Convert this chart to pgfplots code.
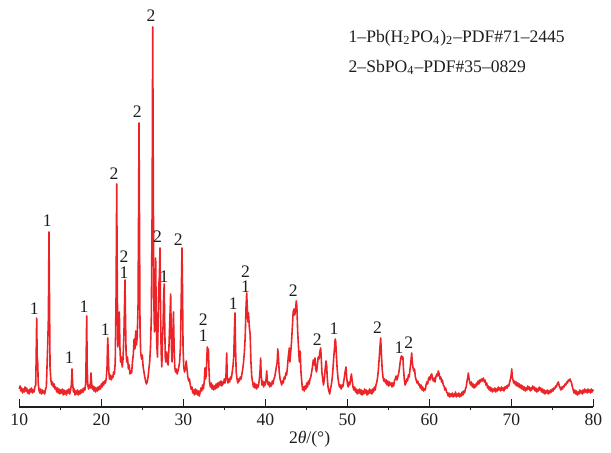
\documentclass[border=0pt]{standalone}
\usepackage{fontspec}
\setmainfont{Liberation Serif}
\usepackage{pgfplots}
\pgfplotsset{compat=1.18}
\definecolor{trace}{RGB}{236,36,40}
\definecolor{ink}{RGB}{30,30,30}

\begin{document}
\begin{tikzpicture}[lbl/.style={font=\fontsize{8.8}{10}\selectfont, text=ink, inner sep=0pt}]
\begin{axis}[
  x=4.1pt, y=0.5pt,
  xmin=10, xmax=80, ymin=0, ymax=407,
  axis x line=bottom, axis y line=none,
  axis line style={-, ink, line width=0.6pt},
  xtick={10,20,...,80}, minor x tick num=1,
  xtick align=inside, major tick length=4pt, minor tick length=1.5pt,
  minor x tick style={yshift=-1.5pt},
  tick style={ink, line width=0.6pt},
  ytick=\empty,
  tick label style={font=\fontsize{8.8}{10}\selectfont, text=ink},
  /pgf/number format/assume math mode=true,
  clip=false,
]
\addplot[trace, line width=0.8pt, line join=round] coordinates {
(10.0,18) (10.1,21) (10.2,16) (10.3,19) (10.4,14) (10.5,18) (10.6,15) (10.7,20) (10.8,16) (10.9,19)
(11.0,14) (11.1,17) (11.2,13) (11.3,18) (11.4,15) (11.5,19) (11.6,14) (11.7,17) (11.8,15) (11.9,20)
(12.0,22) (12.05,45) (12.12,89) (12.18,50) (12.25,44) (12.3,25) (12.4,17) (12.5,14) (12.6,18) (12.7,13)
(12.8,17) (12.9,14) (13.0,16) (13.1,13) (13.2,18) (13.3,20) (13.45,58) (13.55,90) (13.62,175) (13.68,110)
(13.75,40) (13.85,27) (13.95,22) (14.05,25) (14.15,20) (14.25,23) (14.35,18) (14.45,20) (14.55,15) (14.65,19)
(14.75,14) (14.85,18) (14.95,13) (15.05,17) (15.15,14) (15.25,18) (15.35,12) (15.45,17) (15.55,13) (15.65,16)
(15.75,12) (15.85,17) (15.95,14) (16.05,18) (16.15,13) (16.25,17) (16.35,22) (16.43,38) (16.5,24) (16.6,15)
(16.7,18) (16.8,12) (16.9,16) (17.0,13) (17.1,17) (17.2,12) (17.3,16) (17.4,13) (17.5,17) (17.6,14)
(17.7,18) (17.8,15) (17.9,19) (18.0,17) (18.1,24) (18.17,60) (18.22,91) (18.28,40) (18.35,22) (18.45,18)
(18.55,22) (18.65,19) (18.74,34) (18.82,24) (18.9,18) (19.0,21) (19.1,16) (19.2,20) (19.3,15) (19.4,19)
(19.5,16) (19.6,20) (19.7,17) (19.8,21) (19.9,18) (20.0,23) (20.1,20) (20.2,25) (20.3,22) (20.4,26)
(20.5,24) (20.6,28) (20.7,40) (20.78,69) (20.85,55) (20.92,35) (21.0,28) (21.1,32) (21.2,27) (21.3,31)
(21.4,29) (21.5,35) (21.6,33) (21.7,45) (21.8,110) (21.88,223) (21.95,120) (22.02,60) (22.1,72) (22.2,95)
(22.27,60) (22.35,45) (22.45,50) (22.55,40) (22.65,48) (22.75,70) (22.83,100) (22.89,127) (22.95,90) (23.02,55)
(23.1,45) (23.2,50) (23.3,38) (23.4,42) (23.5,33) (23.6,36) (23.7,34) (23.8,45) (23.9,52) (24.0,68)
(24.1,58) (24.2,76) (24.28,62) (24.38,70) (24.48,100) (24.55,200) (24.6,284) (24.66,180) (24.72,80) (24.8,55)
(24.9,48) (25.0,52) (25.1,40) (25.2,35) (25.3,30) (25.4,26) (25.5,23) (25.6,25) (25.7,30) (25.8,38)
(25.9,45) (26.0,60) (26.1,90) (26.2,200) (26.27,380) (26.33,250) (26.4,110) (26.48,75) (26.56,100) (26.63,149)
(26.7,90) (26.78,60) (26.85,50) (26.92,80) (27.0,120) (27.08,130) (27.16,159) (27.22,100) (27.3,55) (27.38,40)
(27.45,65) (27.53,80) (27.6,110) (27.67,123) (27.73,85) (27.8,50) (27.88,45) (27.96,55) (28.05,45) (28.15,42)
(28.25,60) (28.35,85) (28.46,113) (28.55,60) (28.63,45) (28.72,70) (28.8,95) (28.88,60) (28.96,40) (29.05,35)
(29.15,38) (29.25,33) (29.35,36) (29.45,40) (29.55,45) (29.65,60) (29.75,110) (29.84,159) (29.9,120) (29.97,60)
(30.05,40) (30.15,35) (30.25,38) (30.35,46) (30.45,38) (30.55,30) (30.65,26) (30.75,28) (30.85,22) (30.95,18)
(31.05,20) (31.15,14) (31.25,17) (31.35,12) (31.45,18) (31.55,13) (31.65,17) (31.75,12) (31.85,16) (31.95,11)
(32.05,15) (32.15,19) (32.25,16) (32.35,22) (32.45,18) (32.55,25) (32.65,39) (32.72,28) (32.8,32) (32.87,50)
(32.93,60) (33.0,55) (33.06,58) (33.12,40) (33.2,25) (33.3,20) (33.4,24) (33.5,18) (33.6,22) (33.7,17)
(33.8,21) (33.9,18) (34.0,23) (34.1,19) (34.2,24) (34.3,20) (34.4,25) (34.5,22) (34.6,26) (34.7,21)
(34.8,25) (34.9,23) (35.0,28) (35.1,24) (35.2,30) (35.29,54) (35.36,30) (35.45,24) (35.55,28) (35.65,25)
(35.75,30) (35.85,28) (35.95,34) (36.05,40) (36.15,50) (36.23,75) (36.3,94) (36.37,60) (36.45,35) (36.55,28)
(36.65,24) (36.75,28) (36.85,26) (36.95,30) (37.05,28) (37.15,33) (37.25,38) (37.35,45) (37.45,55) (37.55,70)
(37.65,100) (37.73,114) (37.8,100) (37.88,85) (37.95,94) (38.05,80) (38.15,73) (38.25,45) (38.35,30) (38.45,25)
(38.55,20) (38.65,24) (38.75,19) (38.85,23) (38.95,18) (39.05,22) (39.15,20) (39.25,26) (39.35,35) (39.43,49)
(39.5,32) (39.6,22) (39.7,26) (39.8,20) (39.9,25) (40.0,22) (40.1,28) (40.17,36) (40.25,26) (40.35,22)
(40.45,25) (40.55,20) (40.65,24) (40.75,21) (40.85,26) (40.95,23) (41.05,28) (41.15,30) (41.25,35) (41.35,40)
(41.45,45) (41.52,58) (41.6,50) (41.7,35) (41.8,28) (41.9,25) (42.0,22) (42.1,26) (42.2,24) (42.3,30)
(42.4,28) (42.5,34) (42.6,32) (42.7,40) (42.8,50) (42.93,59) (43.0,45) (43.1,55) (43.2,65) (43.3,80)
(43.4,95) (43.5,98) (43.6,92) (43.7,99) (43.78,106) (43.85,100) (43.95,75) (44.05,60) (44.15,45) (44.25,56)
(44.35,35) (44.45,25) (44.55,17) (44.65,20) (44.75,16) (44.85,21) (44.95,18) (45.05,24) (45.15,20) (45.25,26)
(45.35,23) (45.45,28) (45.55,30) (45.65,35) (45.75,40) (45.85,47) (45.95,42) (46.06,49) (46.15,38) (46.25,35)
(46.35,42) (46.45,50) (46.55,48) (46.65,55) (46.75,59) (46.82,50) (46.9,35) (47.0,28) (47.1,22) (47.2,28)
(47.3,38) (47.4,46) (47.48,42) (47.55,30) (47.65,20) (47.75,16) (47.85,13) (47.95,18) (48.05,22) (48.15,28)
(48.25,38) (48.35,50) (48.45,60) (48.52,68) (48.58,66) (48.65,55) (48.75,40) (48.85,30) (48.95,24) (49.05,20)
(49.15,22) (49.25,18) (49.35,22) (49.45,20) (49.55,25) (49.65,30) (49.75,36) (49.84,40) (49.92,30) (50.0,24)
(50.1,20) (50.2,25) (50.3,22) (50.4,28) (50.5,33) (50.6,26) (50.7,20) (50.8,17) (50.9,20) (51.0,15)
(51.1,18) (51.2,13) (51.3,17) (51.4,14) (51.5,18) (51.6,13) (51.7,17) (51.8,12) (51.9,16) (52.0,13)
(52.1,18) (52.2,14) (52.3,17) (52.4,12) (52.5,16) (52.6,13) (52.7,18) (52.8,14) (52.9,17) (53.0,13)
(53.1,18) (53.2,15) (53.3,20) (53.4,17) (53.5,22) (53.6,25) (53.7,30) (53.8,38) (53.9,50) (54.0,62)
(54.07,69) (54.15,55) (54.25,38) (54.35,30) (54.45,26) (54.55,28) (54.65,24) (54.75,27) (54.85,22) (54.95,26)
(55.05,21) (55.15,25) (55.25,22) (55.35,24) (55.45,20) (55.55,24) (55.65,21) (55.75,26) (55.85,28) (55.95,31)
(56.05,27) (56.15,30) (56.25,33) (56.35,38) (56.45,45) (56.55,50) (56.63,51) (56.7,48) (56.78,50) (56.85,38)
(56.95,28) (57.05,22) (57.15,24) (57.25,28) (57.35,26) (57.45,32) (57.55,30) (57.65,38) (57.75,45) (57.85,54)
(57.92,45) (58.0,40) (58.1,36) (58.2,38) (58.3,30) (58.4,27) (58.5,24) (58.6,26) (58.7,22) (58.8,23)
(58.9,19) (59.0,22) (59.1,17) (59.2,20) (59.3,16) (59.4,18) (59.5,17) (59.6,22) (59.7,25) (59.8,23)
(59.9,28) (60.0,30) (60.1,27) (60.2,32) (60.3,33) (60.4,28) (60.5,26) (60.6,29) (60.7,25) (60.8,30)
(60.9,33) (61.0,31) (61.1,36) (61.2,33) (61.3,28) (61.4,30) (61.5,25) (61.6,27) (61.7,22) (61.8,21)
(61.9,17) (62.0,19) (62.1,15) (62.2,14) (62.3,11) (62.4,14) (62.5,10) (62.6,13) (62.7,11) (62.8,14)
(62.9,10) (63.0,13) (63.1,11) (63.2,15) (63.3,10) (63.4,13) (63.5,11) (63.6,14) (63.7,10) (63.8,13)
(63.9,11) (64.0,15) (64.1,12) (64.2,16) (64.3,14) (64.4,18) (64.5,20) (64.6,26) (64.7,30) (64.76,34)
(64.85,28) (64.95,24) (65.05,22) (65.15,25) (65.25,20) (65.35,23) (65.45,19) (65.55,22) (65.65,20) (65.75,24)
(65.85,22) (65.95,26) (66.05,23) (66.15,27) (66.25,25) (66.35,28) (66.45,26) (66.59,29) (66.7,25) (66.8,27)
(66.9,22) (67.0,24) (67.1,19) (67.2,21) (67.3,17) (67.4,20) (67.5,16) (67.6,19) (67.7,15) (67.8,18)
(67.9,16) (68.0,19) (68.1,15) (68.2,18) (68.3,16) (68.4,20) (68.5,17) (68.6,19) (68.7,16) (68.8,20)
(68.9,17) (69.0,19) (69.1,16) (69.2,20) (69.3,18) (69.4,21) (69.5,19) (69.6,22) (69.7,21) (69.8,25)
(69.9,28) (70.0,33) (70.05,38) (70.12,30) (70.2,27) (70.3,24) (70.4,26) (70.5,22) (70.6,25) (70.7,21)
(70.8,24) (70.9,20) (71.0,23) (71.1,19) (71.2,22) (71.3,18) (71.4,21) (71.5,17) (71.6,20) (71.7,16)
(71.8,19) (71.9,17) (72.0,21) (72.1,18) (72.2,20) (72.3,16) (72.4,19) (72.5,17) (72.6,21) (72.7,18)
(72.8,20) (72.9,16) (73.0,19) (73.1,15) (73.2,18) (73.3,16) (73.4,20) (73.5,17) (73.6,19) (73.7,15)
(73.8,18) (73.9,14) (74.0,17) (74.1,13) (74.2,16) (74.3,14) (74.4,17) (74.5,13) (74.6,16) (74.7,14)
(74.8,17) (74.9,15) (75.0,18) (75.1,16) (75.2,19) (75.3,18) (75.4,21) (75.5,20) (75.6,23) (75.74,25)
(75.85,21) (75.95,19) (76.05,17) (76.15,20) (76.25,18) (76.35,21) (76.45,20) (76.55,23) (76.65,22) (76.75,25)
(76.85,24) (76.95,27) (77.05,26) (77.16,28) (77.25,26) (77.35,24) (77.45,20) (77.55,17) (77.65,14) (77.75,17)
(77.85,13) (77.95,16) (78.05,12) (78.15,15) (78.25,13) (78.35,17) (78.45,14) (78.55,16) (78.65,13) (78.75,17)
(78.85,14) (78.95,18) (79.05,15) (79.15,17) (79.25,14) (79.35,18) (79.45,15) (79.55,17) (79.65,14) (79.75,18)
(79.85,15) (79.95,17) (80.0,16)
};
% peak assignments
\node[lbl] at (axis cs:11.83,98) {1};
\node[lbl] at (axis cs:13.42,186) {1};
\node[lbl] at (axis cs:16.1,49) {1};
\node[lbl] at (axis cs:17.9,100) {1};
\node[lbl] at (axis cs:20.49,77) {1};
\node[lbl] at (axis cs:21.55,233) {2};
\node[lbl] at (axis cs:22.77,150) {2};
\node[lbl] at (axis cs:22.77,134) {1};
\node[lbl] at (axis cs:24.39,295) {2};
\node[lbl] at (axis cs:26.06,391) {2};
\node[lbl] at (axis cs:26.87,170) {2};
\node[lbl] at (axis cs:27.65,130) {1};
\node[lbl] at (axis cs:29.39,167) {2};
\node[lbl] at (axis cs:32.44,87) {2};
\node[lbl] at (axis cs:32.44,71) {1};
\node[lbl] at (axis cs:36.1,103) {1};
\node[lbl] at (axis cs:37.6,135) {2};
\node[lbl] at (axis cs:37.6,120) {1};
\node[lbl] at (axis cs:43.42,116) {2};
\node[lbl] at (axis cs:46.35,67) {2};
\node[lbl] at (axis cs:48.38,78) {1};
\node[lbl] at (axis cs:53.7,79) {2};
\node[lbl] at (axis cs:56.3,59) {1};
\node[lbl] at (axis cs:57.5,64) {2};
% phase key
\node[lbl, anchor=base west] at (axis cs:50.12,364) {1--Pb(H\textsubscript{2}PO\textsubscript{4})\textsubscript{2}--PDF\#71--2445};
\node[lbl, anchor=base west] at (axis cs:50.12,334) {2--SbPO\textsubscript{4}--PDF\#35--0829};
\node[lbl] at (axis cs:45.4,0) [yshift=-16pt] {2\textit{θ}/(°)};
\coordinate (O) at (axis cs:10,0);
\end{axis}
\pgfresetboundingbox
\useasboundingbox ([shift={(-9.65pt,-23pt)}]O) rectangle ([shift={(295.85pt,203.5pt)}]O);
\end{tikzpicture}
\end{document}
